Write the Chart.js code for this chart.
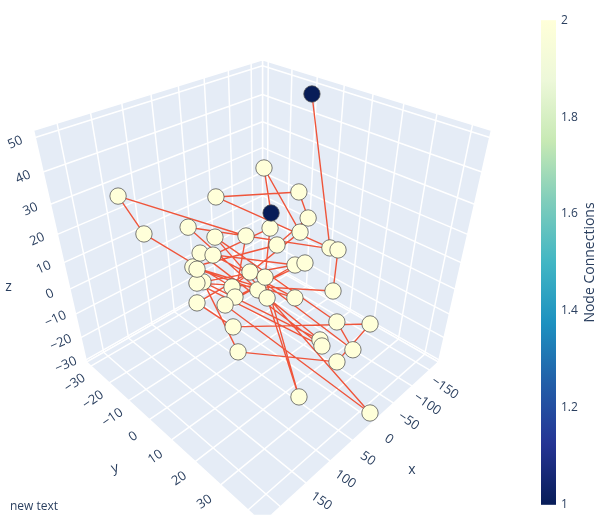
<!DOCTYPE html>
<html>
<head>
<meta charset="utf-8">
<script src="https://cdn.jsdelivr.net/npm/chart.js@4.4.1/dist/chart.umd.min.js"></script>
<style>
  html, body { margin: 0; padding: 0; background: #fff; }
  #wrap { width: 613px; height: 525px; }
</style>
</head>
<body>
<div id="wrap"><canvas id="networkGraph"></canvas></div>
<script>
// Node positions, listed along the path that links them
const nodeX = [-152.9, -75.9, 84.2, -91.2, -30.7, 65.7, 62.9, 41.2, 75.6, -61.3, 70.3, 137.1, 34.4, 105.6, -1.0, -65.3, 118.8, 78.2, 66.8, -2.7, 124.2, -3.5, 18.7, 13.7, 1.3, 13.6, 159.6, 98.1, -71.4, 48.7, 127.9, 131.0, 39.0, -19.8, 81.7, 11.4, 88.8, 18.6, 147.3, 143.4, 32.2, 11.7, -41.9, 16.2];
const nodeY = [-8.0, 13.9, 0.3, -1.3, 12.4, 18.3, -16.8, 20.7, -4.1, -7.5, 15.1, 39.1, 9.2, -6.8, 27.4, 17.8, -1.6, 36.2, -11.9, 13.0, 10.8, 43.0, -15.8, 31.1, 35.5, -1.8, 7.9, 8.0, 31.1, 37.1, 16.0, 1.9, 6.4, 21.0, -7.9, 18.8, 7.2, -2.2, -26.2, -17.1, -6.0, 16.7, -6.5, 7.1];
const nodeZ = [48.2, 9.1, 34.3, 21.3, 23.2, 26.0, -0.6, 6.8, 12.0, 7.5, 14.1, -3.6, -1.0, 23.2, 22.6, -4.4, 7.7, 4.2, 7.8, 9.6, 7.8, -29.6, 7.3, 1.2, -8.1, 0.5, 10.9, -5.4, -10.2, -5.1, -5.7, 15.9, 1.0, -17.1, 0.5, 14.9, 4.4, 14.4, 28.4, 19.4, -5.9, 24.3, 31.3, 26.5];

// Edges (node index pairs)
const edgeFrom = [0, 1, 2, 3, 4, 5, 6, 7, 8, 9, 10, 11, 12, 13, 14, 15, 16, 17, 18, 19, 20, 21, 22, 23, 24, 25, 26, 27, 28, 29, 30, 31, 32, 33, 34, 35, 36, 37, 38, 39, 40, 41, 42];
const edgeTo = [1, 2, 3, 4, 5, 6, 7, 8, 9, 10, 11, 12, 13, 14, 15, 16, 17, 18, 19, 20, 21, 22, 23, 24, 25, 26, 27, 28, 29, 30, 31, 32, 33, 34, 35, 36, 37, 38, 39, 40, 41, 42, 43];

// Axis ranges and ticks
const xRange = [-176, 233];
const yRange = [-32.5, 45];
const zRange = [-31, 52];
const xTicks = [-150, -100, -50, 0, 50, 100, 150, 200];
const yTicks = [-30, -20, -10, 0, 10, 20, 30, 40];
const zTicks = [-30, -20, -10, 0, 10, 20, 30, 40, 50];
const colorTicks = [1, 1.2, 1.4, 1.6, 1.8, 2];

// YlGnBu colour scale
const colorStops = [
  [0, "rgb(8,29,88)"], [0.125, "rgb(37,52,148)"], [0.25, "rgb(34,94,168)"],
  [0.375, "rgb(29,145,192)"], [0.5, "rgb(65,182,196)"], [0.625, "rgb(127,205,187)"],
  [0.75, "rgb(199,233,180)"], [0.875, "rgb(237,248,217)"], [1, "rgb(255,255,217)"],
];

// Camera: eye on the (1,1,1) diagonal, perspective, pixels
const CAM = { dist: 4.42, cx: 262.5, cy: 261.3, sx: 622, sy: 617 };
const AREA = { left: 0, top: 10, right: 558, bottom: 515 };
const FONT = '"Open Sans", "Noto Sans", sans-serif';
const TEXT = "#2a3f5f";

function norm(v, r) {
  return (2 * (v - r[0])) / (r[1] - r[0]) - 1;
}

// 3D data point -> 2D projected point (before the chart scales)
function project(x, y, z) {
  const X = norm(x, xRange), Y = norm(y, yRange), Z = norm(z, zRange);
  const d = CAM.dist - (X + Y + Z) / Math.sqrt(3);
  return { x: (Y - X) / Math.SQRT2 / d, y: (2 * Z - X - Y) / Math.sqrt(6) / d, depth: d };
}

function colorAt(t) {
  t = Math.max(0, Math.min(1, t));
  for (let i = 1; i < colorStops.length; i++) {
    if (t <= colorStops[i][0]) {
      const [t0, c0] = colorStops[i - 1], [t1, c1] = colorStops[i];
      const a = c0.match(/\d+/g).map(Number), b = c1.match(/\d+/g).map(Number);
      const f = (t - t0) / (t1 - t0);
      return `rgb(${a.map((v, k) => Math.round(v + (b[k] - v) * f)).join(",")})`;
    }
  }
  return colorStops[colorStops.length - 1][1];
}

const fmt = (v) => (v < 0 ? "\u2212" + Math.abs(v) : String(v));

// Connections per node
const nodeConnections = nodeX.map(() => 0);
edgeFrom.forEach((a, i) => { nodeConnections[a]++; nodeConnections[edgeTo[i]]++; });

// Walls of the box
const xa = xRange, ya = yRange, za = zRange;
const walls = [
  [[xa[0], ya[0], za[0]], [xa[1], ya[0], za[0]], [xa[1], ya[1], za[0]], [xa[0], ya[1], za[0]]],
  [[xa[0], ya[0], za[0]], [xa[1], ya[0], za[0]], [xa[1], ya[0], za[1]], [xa[0], ya[0], za[1]]],
  [[xa[0], ya[0], za[0]], [xa[0], ya[1], za[0]], [xa[0], ya[1], za[1]], [xa[0], ya[0], za[1]]],
];
const wallSets = walls.map((w) => ({
  data: [...w, w[0]].map((p) => project(...p)),
  showLine: true,
  fill: "shape",
  backgroundColor: "#E5ECF6",
  borderColor: "#ffffff",
  borderWidth: 1.5,
  pointRadius: 0,
  clip: 0,
  order: 3,
}));

// Grid lines on the walls
const gridPts = [];
const seg = (a, b) => { gridPts.push(project(...a), project(...b), { x: NaN, y: NaN }); };
xTicks.forEach((t) => { seg([t, ya[0], za[0]], [t, ya[0], za[1]]); seg([t, ya[0], za[0]], [t, ya[1], za[0]]); });
yTicks.forEach((t) => { seg([xa[0], t, za[0]], [xa[0], t, za[1]]); seg([xa[0], t, za[0]], [xa[1], t, za[0]]); });
zTicks.forEach((t) => { seg([xa[0], ya[0], t], [xa[1], ya[0], t]); seg([xa[0], ya[0], t], [xa[0], ya[1], t]); });

// Edge segments
const edgePts = [];
edgeFrom.forEach((a, i) => {
  const b = edgeTo[i];
  edgePts.push(project(nodeX[a], nodeY[a], nodeZ[a]), project(nodeX[b], nodeY[b], nodeZ[b]), { x: NaN, y: NaN });
});

// Nodes, far ones first
const nodePts = nodeX
  .map((x, i) => ({ ...project(x, nodeY[i], nodeZ[i]), c: nodeConnections[i] }))
  .sort((a, b) => b.depth - a.depth);

// Text, tick labels and colour bar
const sceneText = {
  id: "sceneText",
  afterDraw(chart) {
    const { ctx, chartArea, scales } = chart;
    const toPx = (p) => [scales.x.getPixelForValue(p.x), scales.y.getPixelForValue(p.y)];
    const label = (txt, p, off, rot, size) => {
      const [px, py] = toPx(p);
      ctx.save();
      ctx.translate(px + off[0], py + off[1]);
      ctx.rotate(rot);
      ctx.font = `${size}px ${FONT}`;
      ctx.fillText(txt, 0, 0);
      ctx.restore();
    };
    ctx.save();
    ctx.beginPath();
    ctx.rect(chartArea.left, chartArea.top, chartArea.right - chartArea.left, chartArea.bottom - chartArea.top);
    ctx.clip();
    ctx.fillStyle = TEXT;
    ctx.textAlign = "center";
    ctx.textBaseline = "middle";
    xTicks.forEach((t) => label(fmt(t), project(t, ya[1], za[0]), [15, 18], 0.6, 13));
    yTicks.forEach((t) => label(fmt(t), project(xa[1], t, za[0]), [-16, 17], -0.6, 13));
    zTicks.forEach((t) => label(fmt(t), project(xa[1], ya[0], t), [-20, 5], -0.42, 13));
    const xm = (xa[0] + xa[1]) / 2, ym = (ya[0] + ya[1]) / 2, zm = (za[0] + za[1]) / 2;
    label("x", project(xm, ya[1], za[0]), [50, 38], 0, 14);
    label("y", project(xa[1], ym, za[0]), [-48, 36], -0.3, 14);
    label("z", project(xa[1], ya[0], zm), [-55, 26], 0, 14);
    ctx.restore();

    // colour bar
    const cb = scales.cb;
    const top = cb.getPixelForValue(2), bottom = cb.getPixelForValue(1);
    const grad = ctx.createLinearGradient(0, bottom, 0, top);
    colorStops.forEach(([t, c]) => grad.addColorStop(t, c));
    ctx.save();
    ctx.fillStyle = grad;
    ctx.fillRect(cb.left - 17, top, 15, bottom - top);
    ctx.fillStyle = TEXT;
    ctx.font = `14px ${FONT}`;
    ctx.textAlign = "center";
    ctx.textBaseline = "middle";
    ctx.translate(590, (top + bottom) / 2);
    ctx.rotate(-Math.PI / 2);
    ctx.fillText("Node Connections", 0, 0);
    ctx.restore();

    ctx.save();
    ctx.fillStyle = TEXT;
    ctx.font = `12px ${FONT}`;
    ctx.textBaseline = "middle";
    ctx.fillText("new text", 10, 507);
    ctx.restore();
  },
};

const ctx = document.getElementById("networkGraph").getContext("2d");
const chart = new Chart(ctx, {
  type: "scatter",
  data: {
    datasets: [
      {
        label: "Nodes",
        data: nodePts,
        pointRadius: 8.2,
        pointBorderWidth: 1,
        pointBorderColor: "rgba(80,80,80,0.75)",
        pointBackgroundColor: nodePts.map((p) => colorAt(p.c - 1)),
        order: 0,
      },
      {
        label: "Edges",
        data: edgePts,
        showLine: true,
        spanGaps: false,
        borderColor: "#EF553B",
        borderWidth: 1.4,
        pointRadius: 0,
        order: 1,
      },
      {
        label: "Grid",
        data: gridPts,
        showLine: true,
        spanGaps: false,
        borderColor: "#ffffff",
        borderWidth: 1.5,
        pointRadius: 0,
        clip: 0,
        order: 2,
      },
      ...wallSets,
    ],
  },
  options: {
    responsive: true,
    maintainAspectRatio: false,
    animation: false,
    events: [],
    layout: {
      autoPadding: false,
      padding: { left: AREA.left, top: AREA.top, right: 0, bottom: 525 - AREA.bottom },
    },
    plugins: { legend: { display: false }, tooltip: { enabled: false } },
    scales: {
      x: {
        type: "linear",
        display: false,
        min: (AREA.left - CAM.cx) / CAM.sx,
        max: (AREA.right - CAM.cx) / CAM.sx,
      },
      y: {
        type: "linear",
        display: false,
        min: (CAM.cy - AREA.bottom) / CAM.sy,
        max: (CAM.cy - AREA.top) / CAM.sy,
      },
      cb: {
        type: "linear",
        position: "right",
        axis: "y",
        min: 1 - 10 / 485,
        max: 2 + 10 / 485,
        grid: { display: false, drawTicks: false },
        border: { display: false },
        ticks: {
          padding: 3,
          color: TEXT,
          font: { size: 12, family: FONT },
          callback: (v) => String(+Number(v).toFixed(1)),
        },
        afterBuildTicks: (axis) => { axis.ticks = colorTicks.map((v) => ({ value: v })); },
        afterFit: (axis) => { axis.width = 613 - AREA.right; },
      },
    },
  },
  plugins: [sceneText],
});
</script>
</body>
</html>
